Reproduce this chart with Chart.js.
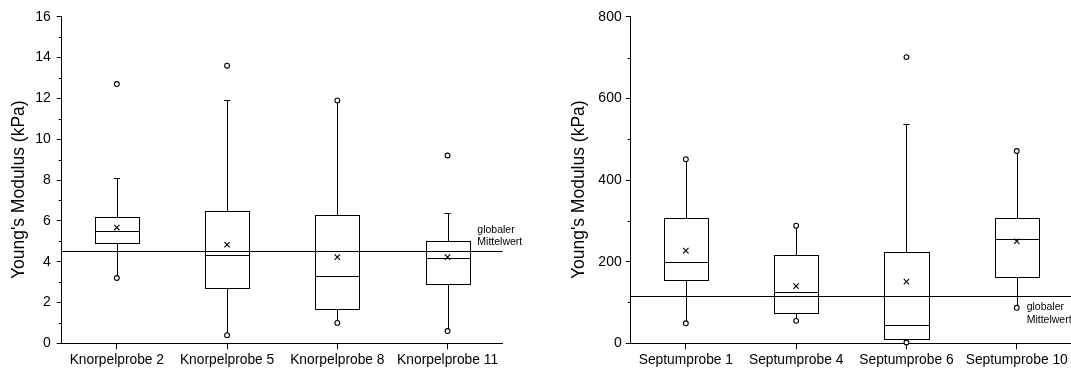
<!DOCTYPE html>
<html>
<head>
<meta charset="utf-8">
<script src="https://cdn.jsdelivr.net/npm/chart.js@4/dist/chart.umd.min.js"></script>
<style>
  html, body { margin: 0; padding: 0; background: #fff; overflow: hidden; }
  #wrap { position: relative; width: 1071px; height: 370px; overflow: hidden; }
  canvas { position: absolute; top: 0; }
  #knorpel { left: 0; }
  #septum { left: 560px; }
</style>
</head>
<body>
<div id="wrap">
  <canvas id="knorpel" width="569" height="370"></canvas>
  <canvas id="septum" width="520" height="370"></canvas>
</div>
<script>
const INK = '#000'
const FONT = "'Liberation Sans', Arial, sans-serif"

// Knorpelproben (kPa)
const knorpelLabels = ['Knorpelprobe 2', 'Knorpelprobe 5', 'Knorpelprobe 8', 'Knorpelprobe 11']
const knorpelQ1 = [4.9, 2.7, 1.7, 2.9]
const knorpelMedian = [5.5, 4.35, 3.3, 4.2]
const knorpelQ3 = [6.2, 6.5, 6.3, 5.0]
const knorpelMean = [5.67, 4.83, 4.22, 4.22]
const knorpelWhiskerLow = [3.2, 0.4, 1.0, 0.6]
const knorpelWhiskerHigh = [8.1, 11.9, 11.9, 6.4]
const knorpelMin = [3.2, 0.4, 1.0, 0.6]
const knorpelMax = [12.7, 13.6, 11.9, 9.2]
const knorpelGlobalMean = 4.5

// Septumproben (kPa)
const septumLabels = ['Septumprobe 1', 'Septumprobe 4', 'Septumprobe 6', 'Septumprobe 10']
const septumQ1 = [155, 75, 10, 163]
const septumMedian = [200, 125, 46, 255]
const septumQ3 = [307, 216, 223, 307]
const septumMean = [227, 140, 151, 250]
const septumWhiskerLow = [49, 55, 2, 87]
const septumWhiskerHigh = [451, 288, 538, 471]
const septumMin = [49, 55, 2, 87]
const septumMax = [451, 288, 701, 471]
const septumGlobalMean = 116

const BOX_HALF = 0.2
const CAP_HALF = 0.028

const crisp = (v) => Math.round(v) + 0.5

const boxPlugin = {
  id: 'boxes',
  beforeDatasetsDraw(chart, args, opts) {
    const { ctx, chartArea, scales: { x, y } } = chart
    const line = (x1, y1, x2, y2) => {
      ctx.beginPath()
      ctx.moveTo(x1, y1)
      ctx.lineTo(x2, y2)
      ctx.stroke()
    }
    ctx.save()
    ctx.strokeStyle = INK
    ctx.lineWidth = 1

    // minor ticks on the y axis
    for (let v = opts.minor; v < y.max; v += 2 * opts.minor) {
      const py = crisp(y.getPixelForValue(v))
      line(chartArea.left - 3, py, chartArea.left, py)
    }

    opts.q1.forEach((q1, i) => {
      const cx = crisp(x.getPixelForValue(i + 1))
      const left = crisp(x.getPixelForValue(i + 1 - BOX_HALF))
      const right = crisp(x.getPixelForValue(i + 1 + BOX_HALF))
      const capL = x.getPixelForValue(i + 1 - CAP_HALF)
      const capR = x.getPixelForValue(i + 1 + CAP_HALF)
      const top = crisp(y.getPixelForValue(opts.q3[i]))
      const bot = crisp(y.getPixelForValue(q1))
      const hi = crisp(y.getPixelForValue(opts.hi[i]))
      const lo = crisp(y.getPixelForValue(opts.lo[i]))
      line(cx, top, cx, hi)
      line(cx, bot, cx, lo)
      if (opts.hi[i] !== opts.max[i]) line(capL, hi, capR, hi)
      if (opts.lo[i] !== opts.min[i]) line(capL, lo, capR, lo)
      ctx.strokeRect(left, top, right - left, bot - top)
      const med = crisp(y.getPixelForValue(opts.median[i]))
      line(left, med, right, med)
    })

    // global mean line + label
    const gy = crisp(y.getPixelForValue(opts.global))
    line(chartArea.left, gy, chartArea.right, gy)
    ctx.fillStyle = INK
    ctx.font = `10.5px ${FONT}`
    ctx.textAlign = 'left'
    ctx.textBaseline = 'middle'
    const lx = x.getPixelForValue(opts.labelX)
    ctx.fillText('globaler', lx, gy + opts.labelDy)
    ctx.fillText('Mittelwert', lx, gy + opts.labelDy + 12.6)
    ctx.restore()
  },
}

const makeChart = (id, {
  labels, q1, median, q3, mean, lo, hi, min, max, global,
  yMax, yStep, yWidth, padRight, labelX, labelDy, tickPadding,
}) => new Chart(document.getElementById(id), {
  type: 'scatter',
  data: {
    datasets: [
      {
        data: mean.map((m, i) => ({ x: i + 1, y: m })),
        pointStyle: 'crossRot',
        pointRadius: 3.8,
        borderColor: INK,
        borderWidth: 1.1,
        clip: false,
      },
      {
        data: [...min, ...max].map((v, i) => ({ x: (i % labels.length) + 1, y: v })),
        pointStyle: 'circle',
        pointRadius: 2.4,
        backgroundColor: '#fff',
        borderColor: INK,
        borderWidth: 1.1,
        clip: false,
      },
    ],
  },
  options: {
    responsive: false,
    animation: false,
    events: [],
    layout: { padding: { top: 16.7, right: padRight, left: 0, bottom: 0 } },
    plugins: {
      legend: { display: false },
      tooltip: { enabled: false },
      boxes: {
        q1, median, q3, lo, hi, min, max, global, labelX, labelDy, minor: yStep / 2,
      },
    },
    scales: {
      x: {
        type: 'linear',
        min: 0.5,
        max: 4.5,
        afterBuildTicks: (s) => { s.ticks = labels.map((_, i) => ({ value: i + 1 })) },
        afterFit: (s) => { s.height = 26.7 },
        ticks: {
          callback: (v) => labels[v - 1],
          font: { family: FONT, size: 13.8 },
          color: INK,
          padding: 3,
          maxRotation: 0,
          autoSkip: false,
        },
        grid: { drawOnChartArea: false, tickLength: 6, color: INK },
        border: { color: INK, width: 1 },
      },
      y: {
        min: 0,
        max: yMax,
        afterFit: (s) => { s.width = yWidth },
        ticks: {
          stepSize: yStep,
          font: { family: FONT, size: 14 },
          color: INK,
          padding: tickPadding,
        },
        grid: { drawOnChartArea: false, tickLength: 5, color: INK },
        border: { color: INK, width: 1 },
        title: {
          display: true,
          text: "Young's Modulus (kPa)    ",
          font: { family: FONT, size: 17.5 },
          color: INK,
          padding: { top: 8.5, bottom: 0 },
        },
      },
    },
  },
  plugins: [boxPlugin],
})

makeChart('knorpel', {
  labels: knorpelLabels,
  q1: knorpelQ1,
  median: knorpelMedian,
  q3: knorpelQ3,
  mean: knorpelMean,
  lo: knorpelWhiskerLow,
  hi: knorpelWhiskerHigh,
  min: knorpelMin,
  max: knorpelMax,
  global: knorpelGlobalMean,
  yMax: 16,
  yStep: 2,
  yWidth: 61.7,
  padRight: 66.3,
  labelX: 4.27,
  labelDy: -21.7,
  tickPadding: 6,
})

makeChart('septum', {
  labels: septumLabels,
  q1: septumQ1,
  median: septumMedian,
  q3: septumQ3,
  mean: septumMean,
  lo: septumWhiskerLow,
  hi: septumWhiskerHigh,
  min: septumMin,
  max: septumMax,
  global: septumGlobalMean,
  yMax: 800,
  yStep: 200,
  yWidth: 70.7,
  padRight: 8.1,
  labelX: 4.09,
  labelDy: 10.7,
  tickPadding: 4,
})
</script>
</body>
</html>
